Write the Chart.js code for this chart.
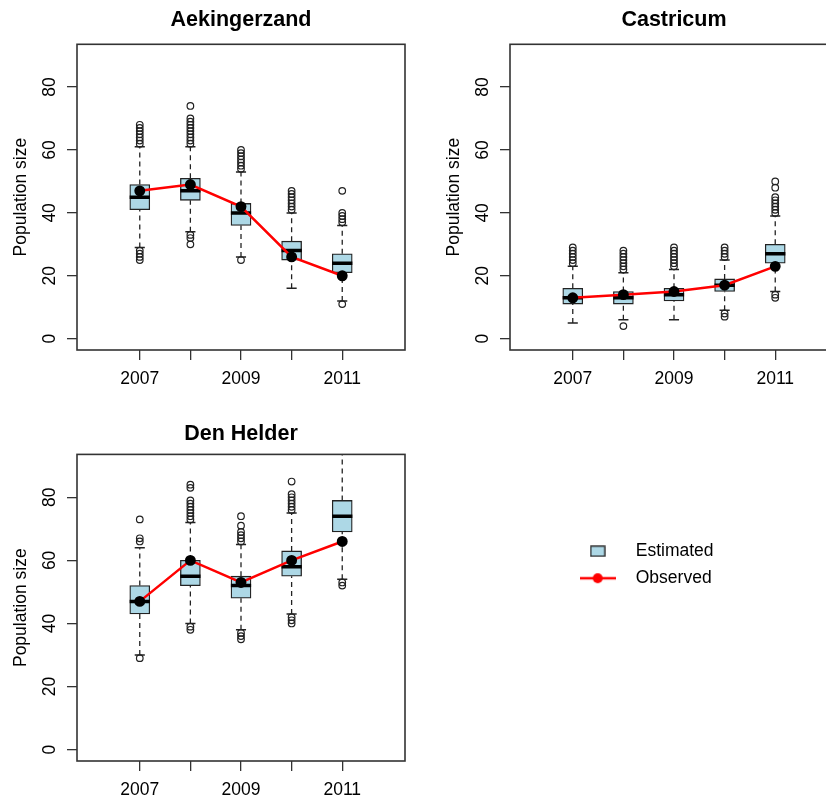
<!DOCTYPE html>
<html>
<head>
<meta charset="utf-8">
<script src="https://cdn.jsdelivr.net/npm/chart.js@4.4.0/dist/chart.umd.min.js"></script>
<style>
html, body { margin: 0; padding: 0; background: #fff; width: 826px; height: 802px; overflow: hidden; }
canvas { position: absolute; }
</style>
</head>
<body>
<canvas id="c1" width="430" height="401" style="left:0;top:0"></canvas>
<canvas id="c2" width="430" height="401" style="left:433px;top:0"></canvas>
<canvas id="c3" width="430" height="402" style="left:0;top:410px"></canvas>
<canvas id="c4" width="400" height="300" style="left:540px;top:401px"></canvas>
<script>
// years on the x axis, only every other one gets a label
var years = [2007, 2008, 2009, 2010, 2011];
var yearLabels = ['2007', '', '2009', '', '2011'];
var yTicks = [0, 20, 40, 60, 80];
var seriesNames = ['Estimated', 'Observed'];

// Aekingerzand
var aekLow = [29, 34, 26, 16, 12];
var aekQ1 = [41, 44, 36, 25, 21];
var aekMed = [45, 47, 40, 28, 24];
var aekQ3 = [49, 51, 43, 31, 27];
var aekHigh = [61, 61, 53, 40, 36];
var aekOut = [
    [62, 63, 64, 65, 66, 67, 68, 28, 27, 26, 25],
    [62, 63, 64, 65, 66, 67, 68, 69, 70, 74, 33, 32, 30],
    [54, 55, 56, 57, 58, 59, 60, 25],
    [41, 42, 43, 44, 45, 46, 47],
    [37, 38, 39, 40, 47, 11]
];
var aekObs = [47, 49, 42, 26, 20];

// Castricum
var casLow = [5, 6, 6, 9, 15];
var casQ1 = [11, 11, 12, 15, 24];
var casMed = [13, 13, 14, 17, 27];
var casQ3 = [16, 15, 16, 19, 30];
var casHigh = [23, 21, 22, 25, 39];
var casOut = [
    [24, 25, 26, 27, 28, 29],
    [22, 23, 24, 25, 26, 27, 28, 4],
    [23, 24, 25, 26, 27, 28, 29],
    [26, 27, 28, 29, 8, 7],
    [40, 41, 42, 43, 44, 45, 48, 50, 14, 13]
];
var casObs = [13, 14, 15, 17, 23];

// Den Helder
var denLow = [30, 40, 38, 43, 54];
var denQ1 = [43, 52, 48, 55, 69];
var denMed = [47, 55, 52, 58, 74];
var denQ3 = [52, 60, 55, 63, 79];
var denHigh = [64, 72, 65, 75, 100];
var denOut = [
    [66, 67, 73, 29],
    [73, 74, 75, 76, 77, 78, 79, 83, 84, 39, 38],
    [66, 67, 68, 69, 71, 74, 37, 36, 35],
    [76, 77, 78, 79, 80, 81, 85, 42, 41, 40],
    [53, 52]
];
var denObs = [47, 60, 53, 60, 66];

var FONT = "'Liberation Sans', Arial, Helvetica, sans-serif";
var BOXFILL = '#ADD8E6';
var INK = '#222';
var capHalf = 0.1;   // whisker cap half width, in years
var medHalf = 0.2;   // median bar half width, in years

Chart.defaults.font.family = FONT;
Chart.defaults.color = '#000';

// R style box around the plot region
var framePlugin = {
    id: 'frame',
    afterDatasetsDraw: function (chart) {
        var a = chart.chartArea;
        var ctx = chart.ctx;
        ctx.save();
        ctx.strokeStyle = '#333';
        ctx.lineWidth = 1.6;
        ctx.strokeRect(a.left, a.top, a.right - a.left, a.bottom - a.top);
        ctx.restore();
    }
};

function makePanel(id, title, lo, q1, med, q3, hi, out, obs, titlePad) {
    var whisk = [], caps = [], meds = [], boxes = [], pts = [], obsPts = [];
    years.forEach(function (yr, i) {
        whisk.push({x: yr, y: lo[i]}, {x: yr, y: q1[i]}, {x: yr, y: null});
        whisk.push({x: yr, y: q3[i]}, {x: yr, y: hi[i]}, {x: yr, y: null});
        caps.push({x: yr - capHalf, y: lo[i]}, {x: yr + capHalf, y: lo[i]}, {x: yr + capHalf, y: null});
        caps.push({x: yr - capHalf, y: hi[i]}, {x: yr + capHalf, y: hi[i]}, {x: yr + capHalf, y: null});
        meds.push({x: yr - medHalf, y: med[i]}, {x: yr + medHalf, y: med[i]}, {x: yr + medHalf, y: null});
        boxes.push({x: yr, y: [q1[i], q3[i]]});
        out[i].forEach(function (v) {
            pts.push({x: yr, y: v});
        });
        obsPts.push({x: yr, y: obs[i]});
    });

    return new Chart(document.getElementById(id), {
        type: 'bar',
        data: {
            datasets: [{
                type: 'line',
                data: whisk,
                borderColor: INK,
                borderWidth: 1.3,
                borderDash: [5, 4],
                pointRadius: 0,
                spanGaps: false,
                order: 6
            }, {
                type: 'line',
                data: caps,
                borderColor: INK,
                borderWidth: 1.5,
                pointRadius: 0,
                spanGaps: false,
                order: 5
            }, {
                type: 'bar',
                label: seriesNames[0],
                data: boxes,
                backgroundColor: BOXFILL,
                borderColor: INK,
                borderWidth: 1.3,
                borderSkipped: false,
                barThickness: 20,
                order: 4
            }, {
                type: 'line',
                data: meds,
                borderColor: '#000',
                borderWidth: 3.5,
                borderCapStyle: 'butt',
                pointRadius: 0,
                spanGaps: false,
                order: 3
            }, {
                type: 'line',
                data: pts,
                showLine: false,
                pointRadius: 3.3,
                pointBorderWidth: 1.2,
                pointBorderColor: INK,
                pointBackgroundColor: 'rgba(0,0,0,0)',
                order: 2
            }, {
                type: 'line',
                label: seriesNames[1],
                data: obsPts,
                borderColor: '#FF0000',
                borderWidth: 2.5,
                pointRadius: 4.2,
                pointBackgroundColor: '#000',
                pointBorderColor: '#000',
                order: 1
            }]
        },
        options: {
            responsive: false,
            animation: false,
            events: [],
            layout: {padding: {left: 0, right: 25, top: 0, bottom: 0}},
            plugins: {
                legend: {display: false},
                tooltip: {enabled: false},
                title: {
                    display: true,
                    text: title,
                    fullSize: false,
                    color: '#000',
                    font: {size: 21.5, weight: 'bold'},
                    padding: titlePad
                }
            },
            scales: {
                x: {
                    type: 'linear',
                    min: 2005.76,
                    max: 2012.24,
                    offset: false,
                    afterBuildTicks: function (s) {
                        s.ticks = years.map(function (v) { return {value: v}; });
                    },
                    afterFit: function (s) { s.height = 51; },
                    border: {display: false},
                    grid: {offset: false, drawOnChartArea: false, drawTicks: true, tickLength: 10, color: '#333', lineWidth: 1.3},
                    ticks: {
                        autoSkip: false,
                        maxRotation: 0,
                        padding: 9,
                        font: {size: 17.5},
                        callback: function (v, i) { return yearLabels[i]; }
                    }
                },
                y: {
                    min: -3.6,
                    max: 93.6,
                    afterBuildTicks: function (s) {
                        s.ticks = yTicks.map(function (v) { return {value: v}; });
                    },
                    afterFit: function (s) { s.width = 77; },
                    border: {display: false},
                    grid: {drawOnChartArea: false, drawTicks: true, tickLength: 10, color: '#333', lineWidth: 1.3},
                    ticks: {
                        minRotation: 90,
                        maxRotation: 90,
                        crossAlign: 'center',
                        padding: 7,
                        font: {size: 17.5},
                        callback: function (v) { return String(v); }
                    },
                    title: {
                        display: true,
                        text: 'Population size',
                        font: {size: 17.5},
                        padding: {top: 10.5, bottom: 0}
                    }
                }
            }
        },
        plugins: [framePlugin]
    });
}

makePanel('c1', 'Aekingerzand', aekLow, aekQ1, aekMed, aekQ3, aekHigh, aekOut, aekObs, {top: 7, bottom: 11.5});
makePanel('c2', 'Castricum', casLow, casQ1, casMed, casQ3, casHigh, casOut, casObs, {top: 7, bottom: 11.5});
makePanel('c3', 'Den Helder', denLow, denQ1, denMed, denQ3, denHigh, denOut, denObs, {top: 11.6, bottom: 7});

// legend symbols: filled box, and red line with a dot
function makeIcon(w, h, draw) {
    var c = document.createElement('canvas');
    c.width = w;
    c.height = h;
    draw(c.getContext('2d'));
    return c;
}
var boxIcon = makeIcon(16, 12, function (g) {
    g.fillStyle = BOXFILL;
    g.fillRect(1, 1, 14, 10);
    g.strokeStyle = INK;
    g.lineWidth = 1.3;
    g.strokeRect(1, 1, 14, 10);
});
var obsIcon = makeIcon(36, 12, function (g) {
    g.strokeStyle = '#FF0000';
    g.lineWidth = 2.5;
    g.beginPath();
    g.moveTo(0, 6);
    g.lineTo(36, 6);
    g.stroke();
    g.fillStyle = '#FF0000';
    g.beginPath();
    g.arc(18, 6, 5, 0, Math.PI * 2);
    g.fill();
});
var icons = [boxIcon, obsIcon];

new Chart(document.getElementById('c4'), {
    type: 'line',
    data: {
        datasets: [
            {label: seriesNames[0], data: []},
            {label: seriesNames[1], data: []}
        ]
    },
    options: {
        responsive: false,
        animation: false,
        events: [],
        layout: {padding: {left: 19, top: 132}},
        scales: {x: {display: false}, y: {display: false}},
        plugins: {
            tooltip: {enabled: false},
            legend: {
                position: 'left',
                align: 'start',
                labels: {
                    usePointStyle: true,
                    pointStyleWidth: 58.5,
                    padding: 9.5,
                    color: '#000',
                    font: {size: 17.5},
                    generateLabels: function (chart) {
                        return chart.data.datasets.map(function (ds, i) {
                            return {
                                text: ds.label,
                                pointStyle: icons[i],
                                datasetIndex: i,
                                lineWidth: 0,
                                fillStyle: 'rgba(0,0,0,0)',
                                strokeStyle: 'rgba(0,0,0,0)',
                                hidden: false
                            };
                        });
                    }
                }
            }
        }
    }
});
</script>
</body>
</html>
